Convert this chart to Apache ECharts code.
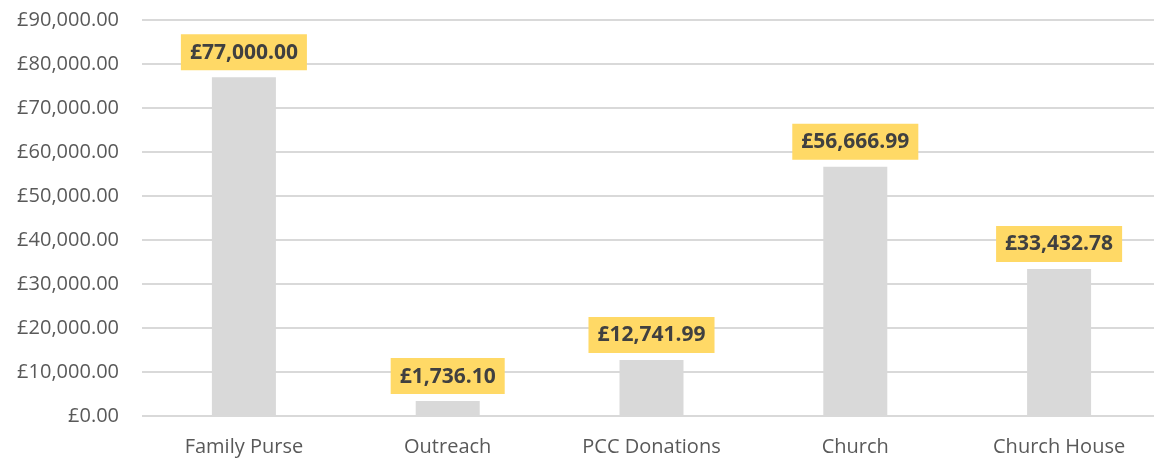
<!DOCTYPE html>
<html>
<head>
<meta charset="utf-8">
<script src="https://cdn.jsdelivr.net/npm/echarts@6/dist/echarts.min.js"></script>
<style>
  html, body { margin: 0; padding: 0; background: #fff; }
  #chart { width: 1154px; height: 461px; }
</style>
</head>
<body>
<div id="chart"></div>
<script>
// categories and bar heights
const categories = ["Family Purse", "Outreach", "PCC Donations", "Church", "Church House"];
const barValues = [77000, 3400, 12741.99, 56666.99, 33432.78];
// data label text as shown (Outreach label differs from its bar height)
const labelTexts = ["£77,000.00", "£1,736.10", "£12,741.99", "£56,666.99", "£33,432.78"];

function money(v) {
  return "£" + v.toLocaleString("en-GB", { minimumFractionDigits: 2, maximumFractionDigits: 2 });
}

const myChart = echarts.init(document.getElementById("chart"));

const option = {
  animation: false,
  grid: {
    left: 142,
    width: 1019,
    top: 20,
    bottom: 45,
    containLabel: false,
    outerBoundsMode: "none",
  },
  xAxis: {
    type: "category",
    data: categories,
    axisLine: { show: false },
    axisTick: { show: false },
    axisLabel: {
      color: "#595959",
      fontSize: 20,
      fontFamily: "Open Sans",
      margin: 21,
    },
  },
  yAxis: {
    type: "value",
    min: 0,
    max: 90000,
    interval: 10000,
    axisLine: { show: false },
    axisTick: { show: false },
    axisLabel: {
      color: "#595959",
      fontSize: 20,
      fontFamily: "Open Sans",
      margin: 23,
      formatter: money,
    },
    splitLine: {
      lineStyle: { color: "#d9d9d9", width: 2 },
    },
  },
  series: [
    {
      type: "bar",
      data: barValues,
      barWidth: 64,
      itemStyle: { color: "#d9d9d9" },
      label: {
        show: true,
        position: "top",
        distance: 7,
        formatter: (p) => labelTexts[p.dataIndex],
        backgroundColor: "#ffd966",
        color: "#404040",
        fontWeight: "bold",
        fontSize: 21,
        fontFamily: "Open Sans",
        padding: [8, 9, 7, 9],
      },
    },
  ],
};

myChart.setOption(option);
window.addEventListener("resize", () => myChart.resize());
</script>
</body>
</html>
